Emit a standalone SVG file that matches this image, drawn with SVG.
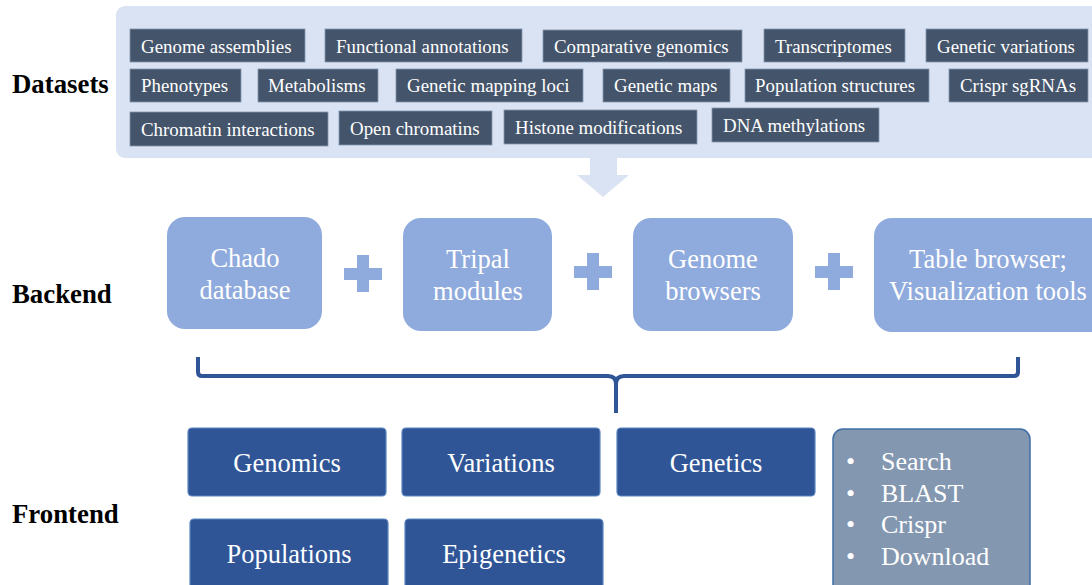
<svg xmlns="http://www.w3.org/2000/svg" width="1092" height="585" viewBox="0 0 1092 585">
<style>
.lbl{font-family:"Liberation Serif","Times New Roman",serif;font-weight:bold;font-size:26.8px;fill:#000}
.ds rect{fill:#44546a;stroke:#8497b0;stroke-width:0.8}
.ds text{font-family:"Liberation Serif","Times New Roman",serif;font-size:18.9px;fill:#fff}
.be rect{fill:#8faadc}
.be text{font-family:"Liberation Serif","Times New Roman",serif;font-size:26.5px;fill:#fff;text-anchor:middle}
.plus{fill:#8faadc}
.fe rect{fill:#2f5597;stroke:#5b86c0;stroke-width:1.2}
.fe text{font-family:"Liberation Serif","Times New Roman",serif;font-size:26.5px;fill:#fff;text-anchor:middle}
.tools rect{fill:#8497b0;stroke:#3f6fa6;stroke-width:1.5}
.tools text{font-family:"Liberation Serif","Times New Roman",serif;font-size:26px;fill:#fff}
</style>
<text class="lbl" x="12" y="93">Datasets</text>
<text class="lbl" x="12" y="303">Backend</text>
<text class="lbl" x="12" y="523">Frontend</text>

<g id="datasets-panel">
<rect x="116" y="6" width="990" height="152" rx="9" fill="#dae3f3"/>
<path d="M590 158 L617 158 L617 175 L629 175 L603 197 L577 175 L590 175 Z" fill="#dae3f3"/>
</g>

<g class="ds">
<g id="ds-genome-assemblies"><rect x="130" y="29" width="175" height="33"/><text x="141" y="52.5">Genome assemblies</text></g>
<g id="ds-functional-annotations"><rect x="325" y="29" width="197" height="33"/><text x="336" y="52.5">Functional annotations</text></g>
<g id="ds-comparative-genomics"><rect x="543" y="30" width="199" height="32"/><text x="554" y="52.5">Comparative genomics</text></g>
<g id="ds-transcriptomes"><rect x="764" y="29" width="141" height="33"/><text x="775" y="52.5">Transcriptomes</text></g>
<g id="ds-genetic-variations"><rect x="926" y="29" width="162" height="33"/><text x="937" y="52.5">Genetic variations</text></g>

<g id="ds-phenotypes"><rect x="130" y="69" width="111" height="33"/><text x="141" y="92">Phenotypes</text></g>
<g id="ds-metabolisms"><rect x="258" y="69" width="120" height="33"/><text x="268" y="92">Metabolisms</text></g>
<g id="ds-genetic-mapping-loci"><rect x="396" y="69" width="187" height="33"/><text x="407" y="92">Genetic mapping loci</text></g>
<g id="ds-genetic-maps"><rect x="603" y="69" width="127" height="33"/><text x="614" y="92">Genetic maps</text></g>
<g id="ds-population-structures"><rect x="745" y="69" width="184" height="33"/><text x="755" y="92">Population structures</text></g>
<g id="ds-crispr-sgrnas"><rect x="949" y="69" width="139" height="33"/><text x="960" y="92">Crispr sgRNAs</text></g>

<g id="ds-chromatin-interactions"><rect x="130" y="112" width="198" height="34"/><text x="141" y="136">Chromatin interactions</text></g>
<g id="ds-open-chromatins"><rect x="339" y="111" width="153" height="34"/><text x="350" y="135">Open chromatins</text></g>
<g id="ds-histone-modifications"><rect x="504" y="110" width="193" height="34"/><text x="515" y="134">Histone modifications</text></g>
<g id="ds-dna-methylations"><rect x="712" y="108" width="167" height="34"/><text x="723" y="132">DNA methylations</text></g>
</g>

<g class="be">
<g id="be-chado"><rect x="167" y="217" width="155" height="112" rx="18"/><text x="245" y="267">Chado</text><text x="245" y="299">database</text></g>
<g id="be-tripal"><rect x="403" y="218" width="149" height="113" rx="18"/><text x="478" y="268">Tripal</text><text x="478" y="300">modules</text></g>
<g id="be-genome-browsers"><rect x="633" y="218" width="160" height="113" rx="18"/><text x="713" y="268">Genome</text><text x="713" y="300">browsers</text></g>
<g id="be-table-browser"><rect x="874" y="218" width="240" height="114" rx="18"/><text x="988" y="268">Table browser;</text><text x="988" y="300">Visualization tools</text></g>
</g>

<g id="plus-signs" class="plus">
<rect x="344" y="268" width="38" height="12"/><rect x="357" y="255" width="12" height="37"/>
<rect x="574" y="266" width="38" height="12"/><rect x="587" y="253" width="12" height="37"/>
<rect x="815" y="266" width="38" height="12"/><rect x="828" y="253" width="12" height="37"/>
</g>

<g id="connectors" fill="none" stroke="#2f5597" stroke-width="4" stroke-linejoin="round">
<path d="M198 357 L198 372 Q198 376 202 376 L608 376 Q616 376 616 384 L616 413"/>
<path d="M1018 357 L1018 372 Q1018 376 1014 376 L624 376 Q616 376 616 384"/>
</g>

<g class="fe">
<g id="fe-genomics"><rect x="188" y="428" width="198" height="68" rx="4"/><text x="287" y="472">Genomics</text></g>
<g id="fe-variations"><rect x="402" y="428" width="198" height="68" rx="4"/><text x="501" y="472">Variations</text></g>
<g id="fe-genetics"><rect x="617" y="428" width="198" height="68" rx="4"/><text x="716" y="472">Genetics</text></g>
<g id="fe-populations"><rect x="190" y="519" width="198" height="80" rx="4"/><text x="289" y="563">Populations</text></g>
<g id="fe-epigenetics"><rect x="405" y="519" width="198" height="80" rx="4"/><text x="504" y="563">Epigenetics</text></g>
</g>

<g id="fe-tools" class="tools">
<rect x="833" y="429" width="197" height="170" rx="10"/>
<text x="846" y="470">•</text><text x="881" y="470">Search</text>
<text x="846" y="502">•</text><text x="881" y="502">BLAST</text>
<text x="846" y="533">•</text><text x="881" y="533">Crispr</text>
<text x="846" y="565">•</text><text x="881" y="565">Download</text>
</g>
</svg>
